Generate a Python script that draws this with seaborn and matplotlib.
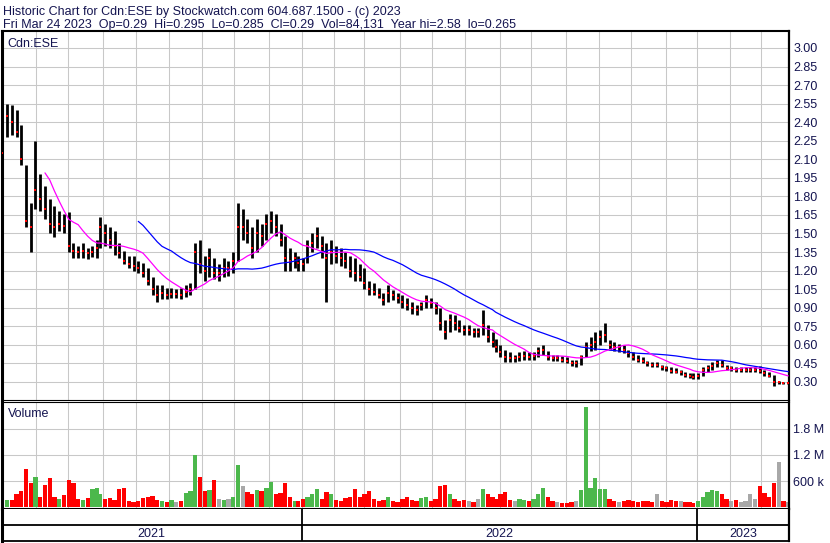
import numpy as np
import pandas as pd
import matplotlib
matplotlib.use("Agg")
import matplotlib.pyplot as plt
import seaborn as sns

# TSX holidays in the window (trading calendar for the x axis)
holidays = ["2021-04-02", "2021-05-24", "2021-07-01", "2021-08-02", "2021-09-06", "2021-10-11",
            "2021-12-27", "2021-12-28", "2022-01-03", "2022-02-21", "2022-04-15", "2022-05-23",
            "2022-07-01", "2022-08-01", "2022-09-05", "2022-10-10", "2022-12-26", "2022-12-27",
            "2023-01-02", "2023-02-20"]

# price bars, roughly every third session
high = [2.33, 2.55, 2.54, 2.50, 2.38, 2.05, 1.75, 2.25, 1.98, 1.88,
        1.78, 1.72, 1.68, 1.66, 1.67, 1.42, 1.40, 1.42, 1.38, 1.40,
        1.45, 1.63, 1.58, 1.55, 1.52, 1.42, 1.36, 1.32, 1.32, 1.28,
        1.26, 1.22, 1.15, 1.08, 1.08, 1.06, 1.06, 1.05, 1.06, 1.08,
        1.10, 1.42, 1.45, 1.32, 1.38, 1.30, 1.25, 1.30, 1.28, 1.35,
        1.75, 1.70, 1.62, 1.55, 1.62, 1.58, 1.66, 1.68, 1.66, 1.58,
        1.48, 1.38, 1.35, 1.32, 1.30, 1.45, 1.50, 1.55, 1.48, 1.42,
        1.45, 1.40, 1.38, 1.35, 1.32, 1.30, 1.25, 1.22, 1.12, 1.10,
        1.06, 1.02, 1.08, 1.04, 1.02, 1.00, 0.98, 0.95, 0.92, 0.95,
        1.00, 0.98, 0.95, 0.90, 0.80, 0.85, 0.84, 0.80, 0.76, 0.76,
        0.74, 0.74, 0.88, 0.76, 0.70, 0.65, 0.60, 0.56, 0.54, 0.52,
        0.54, 0.55, 0.54, 0.54, 0.58, 0.60, 0.55, 0.52, 0.52, 0.51,
        0.50, 0.48, 0.48, 0.52, 0.62, 0.66, 0.70, 0.72, 0.78, 0.64,
        0.62, 0.61, 0.60, 0.56, 0.54, 0.52, 0.50, 0.47, 0.46, 0.46,
        0.44, 0.43, 0.42, 0.41, 0.40, 0.38, 0.37, 0.37, 0.37, 0.42,
        0.44, 0.46, 0.48, 0.48, 0.44, 0.43, 0.42, 0.42, 0.42, 0.42,
        0.42, 0.43, 0.40, 0.38, 0.36, 0.31, 0.30, 0.30]
low = [2.05, 2.28, 2.30, 2.28, 2.05, 1.55, 1.35, 1.70, 1.68, 1.62,
       1.50, 1.47, 1.52, 1.50, 1.35, 1.30, 1.30, 1.30, 1.29, 1.31,
       1.30, 1.38, 1.40, 1.38, 1.33, 1.30, 1.25, 1.22, 1.20, 1.18,
       1.15, 1.08, 1.00, 0.95, 0.97, 0.97, 0.98, 0.98, 0.97, 0.99,
       1.00, 1.05, 1.18, 1.12, 1.15, 1.13, 1.12, 1.15, 1.16, 1.18,
       1.28, 1.45, 1.42, 1.30, 1.35, 1.40, 1.45, 1.50, 1.48, 1.40,
       1.20, 1.20, 1.22, 1.20, 1.20, 1.26, 1.35, 1.38, 1.30, 0.95,
       1.25, 1.26, 1.24, 1.22, 1.15, 1.12, 1.12, 1.05, 1.00, 1.00,
       0.98, 0.92, 0.95, 0.96, 0.94, 0.90, 0.88, 0.85, 0.84, 0.88,
       0.90, 0.90, 0.85, 0.72, 0.65, 0.70, 0.72, 0.70, 0.68, 0.68,
       0.66, 0.66, 0.68, 0.62, 0.58, 0.54, 0.50, 0.46, 0.46, 0.46,
       0.47, 0.48, 0.48, 0.48, 0.50, 0.52, 0.48, 0.47, 0.47, 0.46,
       0.45, 0.43, 0.42, 0.44, 0.50, 0.55, 0.56, 0.60, 0.62, 0.56,
       0.55, 0.54, 0.53, 0.50, 0.48, 0.46, 0.45, 0.43, 0.42, 0.42,
       0.40, 0.39, 0.37, 0.37, 0.36, 0.34, 0.33, 0.32, 0.32, 0.35,
       0.38, 0.40, 0.42, 0.42, 0.40, 0.39, 0.38, 0.38, 0.38, 0.38,
       0.38, 0.37, 0.35, 0.34, 0.27, 0.28, 0.28, 0.28]
close = [2.15, 2.45, 2.40, 2.32, 2.10, 1.60, 1.55, 1.85, 1.78, 1.70,
         1.58, 1.55, 1.58, 1.56, 1.40, 1.36, 1.35, 1.36, 1.34, 1.35,
         1.38, 1.55, 1.50, 1.45, 1.40, 1.34, 1.28, 1.25, 1.24, 1.22,
         1.18, 1.12, 1.05, 1.00, 1.02, 1.00, 1.01, 1.01, 1.00, 1.03,
         1.05, 1.35, 1.25, 1.20, 1.30, 1.18, 1.18, 1.22, 1.22, 1.28,
         1.55, 1.55, 1.50, 1.38, 1.50, 1.48, 1.58, 1.60, 1.55, 1.45,
         1.30, 1.28, 1.30, 1.26, 1.25, 1.40, 1.42, 1.48, 1.40, 1.30,
         1.35, 1.32, 1.30, 1.28, 1.20, 1.18, 1.15, 1.10, 1.05, 1.03,
         1.00, 0.96, 1.02, 1.00, 0.98, 0.95, 0.92, 0.90, 0.88, 0.92,
         0.96, 0.94, 0.90, 0.78, 0.70, 0.80, 0.78, 0.74, 0.72, 0.72,
         0.70, 0.70, 0.76, 0.66, 0.62, 0.58, 0.54, 0.50, 0.49, 0.49,
         0.50, 0.51, 0.50, 0.51, 0.55, 0.56, 0.50, 0.49, 0.49, 0.48,
         0.47, 0.45, 0.45, 0.50, 0.58, 0.60, 0.62, 0.66, 0.68, 0.60,
         0.58, 0.58, 0.56, 0.53, 0.50, 0.48, 0.47, 0.45, 0.44, 0.44,
         0.42, 0.41, 0.39, 0.38, 0.38, 0.36, 0.35, 0.34, 0.35, 0.40,
         0.41, 0.43, 0.45, 0.44, 0.41, 0.41, 0.40, 0.40, 0.40, 0.40,
         0.40, 0.39, 0.37, 0.35, 0.30, 0.30, 0.29, 0.29]
volume = [220, 170, 180, 300, 380, 870, 560, 700, 250, 510,
          680, 250, 200, 280, 620, 560, 200, 180, 220, 420,
          450, 300, 200, 220, 180, 420, 450, 150, 130, 140,
          220, 250, 260, 170, 150, 120, 160, 130, 150, 320,
          380, 1200, 700, 380, 400, 620, 200, 180, 200, 250,
          980, 500, 350, 300, 400, 380, 450, 590, 300, 320,
          550, 250, 150, 140, 200, 250, 300, 420, 200, 350,
          300, 180, 150, 220, 250, 420, 250, 300, 380, 200,
          150, 180, 250, 150, 130, 200, 250, 180, 150, 220,
          250, 150, 200, 480, 520, 300, 200, 150, 180, 150,
          130, 200, 420, 300, 250, 200, 300, 350, 180, 150,
          200, 180, 150, 200, 300, 450, 250, 150, 120, 100,
          110, 120, 150, 400, 2300, 450, 680, 420, 430, 200,
          150, 130, 150, 170, 150, 120, 140, 150, 130, 300,
          150, 130, 160, 140, 150, 120, 130, 100, 150, 250,
          350, 400, 380, 300, 200, 150, 180, 130, 150, 300,
          200, 500, 330, 250, 560, 1050, 150, 130]

days = pd.bdate_range("2021-03-31", "2023-03-24", freq="C", holidays=holidays)
pos = np.linspace(0, len(days) - 1, len(close)).round().astype(int)

df = pd.DataFrame({"pos": pos, "date": days[pos], "high": high, "low": low,
                   "close": close, "vol": np.array(volume) * 1000.0})
df["ma_short"] = df["close"].rolling(10).mean()
df["ma_long"] = df["close"].rolling(30).mean()
chg = df["close"].diff().fillna(0).round(4)
vol_colors = np.where(chg > 0, "#4CB84C", np.where(chg < 0, "#FF0000", "#A8A8A8"))

month_pos = np.flatnonzero(days.month != np.r_[0, days.month[:-1]])[1:]
year_pos = np.flatnonzero(days.year != np.r_[0, days.year[:-1]])
year_edges = list(year_pos) + [len(days)]

sns.set_style("white")
plt.rcParams["font.family"] = ["Liberation Sans", "DejaVu Sans"]
navy = "#141450"
grid_c = "#C8C8C8"

W, H = 830, 543
fig = plt.figure(figsize=(W / 100, H / 100), dpi=100)


def box(l, t, r, b):
    return [l / W, 1 - b / H, (r - l) / W, (b - t) / H]


xlim = (-0.5, len(days) - 0.5)

# price panel
ax = fig.add_axes(box(1.5, 31, 789, 400))
ax.set_xlim(*xlim)
ax.set_ylim(0.154, 3.137)
for p in np.arange(0.30, 3.01, 0.15):
    ax.axhline(p, color=grid_c, lw=0.75, zorder=0)
for m in month_pos:
    ax.axvline(m - 0.5, color=grid_c, lw=0.75, zorder=0)
ax.vlines(df["pos"], df["low"], df["high"], color="black", lw=2.0, zorder=2)
ax.plot(df["pos"], df["close"], ls="none", marker="s", ms=2.0, mew=0, color="#FF0000", zorder=3)
sns.lineplot(data=df, x="pos", y="ma_long", color="#0000FF", lw=0.9, ax=ax, zorder=4)
sns.lineplot(data=df, x="pos", y="ma_short", color="#FF00FF", lw=0.9, ax=ax, zorder=4)
ax.set_xlabel("")
ax.set_ylabel("")
ax.set_xticks([])
ax.yaxis.tick_right()
ax.set_yticks(np.arange(0.30, 3.01, 0.15))
ax.set_yticklabels([f"{t:.2f}" for t in np.arange(0.30, 3.01, 0.15)])
ax.tick_params(axis="y", length=0, pad=3, labelsize=9, labelcolor=navy)
ax.text(6 / 787, 0.965, "Cdn:ESE", transform=ax.transAxes, fontsize=9, color=navy, va="center")

# volume panel
axv = fig.add_axes(box(1.5, 402, 789, 509))
axv.set_xlim(*xlim)
axv.set_ylim(-35000, 2.41e6)
for v in [600000, 1200000, 1800000]:
    axv.axhline(v, color=grid_c, lw=0.75, zorder=0)
for m in month_pos:
    axv.axvline(m - 0.5, color=grid_c, lw=0.75, zorder=0)
axv.bar(df["pos"], df["vol"], width=2.7, color=vol_colors, lw=0, zorder=2)
axv.set_xticks([])
axv.yaxis.tick_right()
axv.set_yticks([600000, 1200000, 1800000])
axv.set_yticklabels(["600 k", "1.2 M", "1.8 M"])
axv.tick_params(axis="y", length=0, pad=3, labelsize=9, labelcolor=navy)
axv.text(6 / 787, 0.885, "Volume", transform=axv.transAxes, fontsize=9, color=navy, va="center")

# date strip
axd = fig.add_axes(box(1.5, 509, 789, 541))
axd.set_xlim(*xlim)
axd.set_ylim(0, 2)
axd.axhline(0.97, color="black", lw=1.3)
for y in year_pos[1:]:
    axd.axvline(y - 0.5, color="black", lw=1.3)
for a, b, yr in zip(year_edges[:-1], year_edges[1:], sorted(set(days.year))):
    axd.text((a + b) / 2 - 0.5, 0.42, str(yr), ha="center", va="center", fontsize=9, color=navy)
axd.set_xticks([])
axd.set_yticks([])

for a in (ax, axv, axd):
    for s in a.spines.values():
        s.set_color("black")
        s.set_linewidth(0.8)
    a.spines["left"].set_linewidth(2.2)
    a.spines["right"].set_linewidth(1.6)
ax.spines["top"].set_linewidth(1.5)
axv.spines["bottom"].set_linewidth(1.5)
axd.spines["top"].set_visible(False)
axd.spines["bottom"].set_linewidth(1.3)

fig.text(3 / W, 1 - 15.5 / H, "Historic Chart for Cdn:ESE by Stockwatch.com 604.687.1500 - (c) 2023",
         fontsize=9, color=navy, va="baseline")
fig.text(3 / W, 1 - 28 / H,
         "Fri Mar 24 2023  Op=0.29  Hi=0.295  Lo=0.285  Cl=0.29  Vol=84,131  Year hi=2.58  lo=0.265",
         fontsize=9, color=navy, va="baseline")

fig.savefig("out.png", dpi=100, facecolor="white")
